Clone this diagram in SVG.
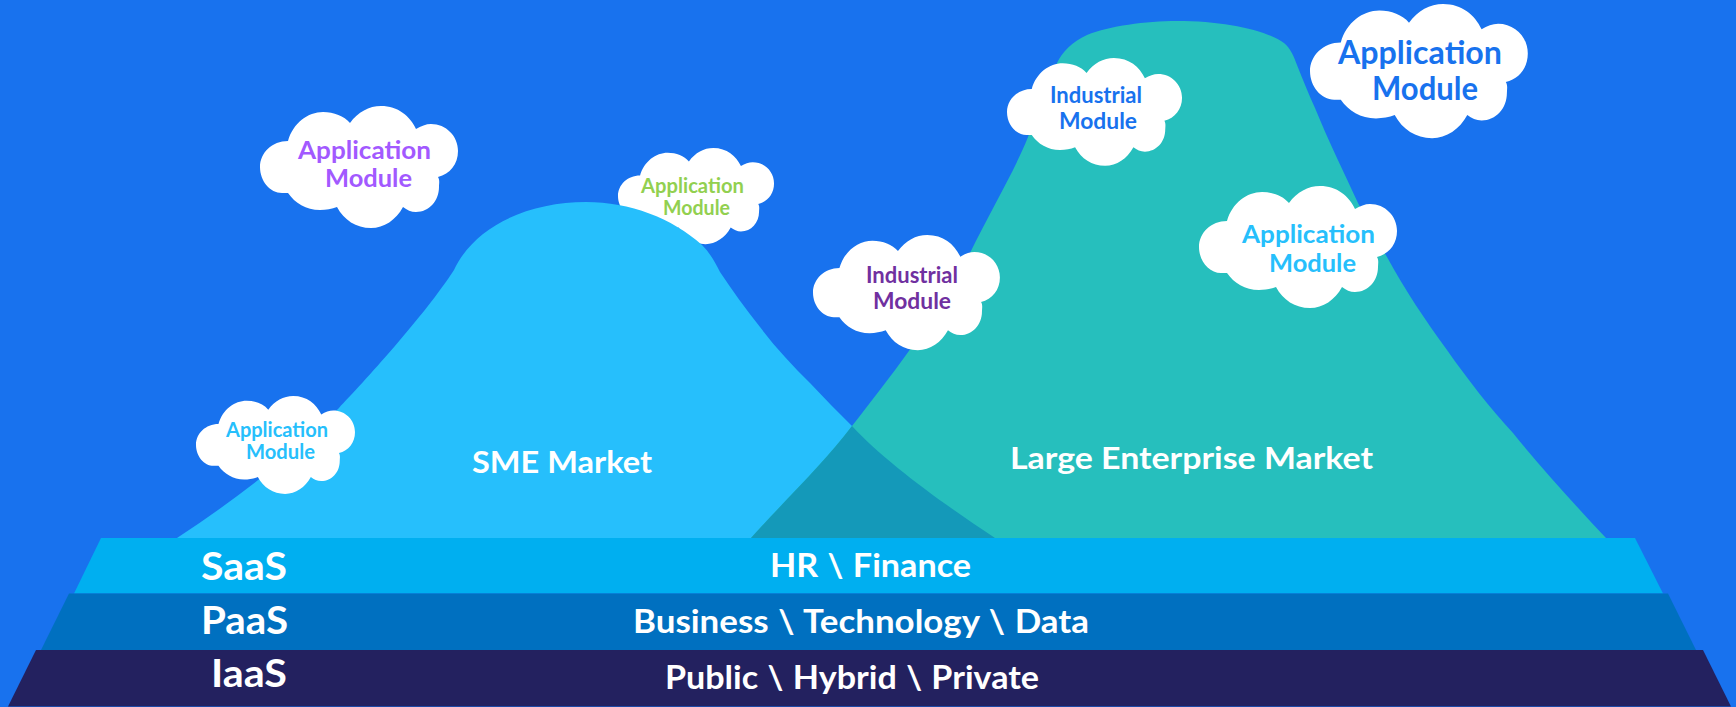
<svg xmlns="http://www.w3.org/2000/svg" xmlns:xlink="http://www.w3.org/1999/xlink" width="1736" height="707" viewBox="0 0 1736 707">
<style>
text{font-family:"Lato","Liberation Sans",sans-serif;font-weight:700}
.w{fill:#fff}
.m{font-size:31px}
.l{font-size:38px}
.s{font-size:32px;word-spacing:1px}
.c24{font-size:25.5px}
.c19{font-size:20px}
.c30{font-size:31.5px}
.c22{font-size:22.5px}
</style>
<defs>
<path id="cloud" fill="#fff" d="M28,35 C33,17 48,6 63,6 C74,6 84,10 90,17 C98,6 109,0 121,0 C138,0 150,10 156,23 C161,20 166,18 171,18 C186,18 198,30 198,45 C198,58 190,68 178,71 C180,74 179,78 179,81 C179,95 169,106 156,106 C151,106 147,104 143,101 C136,114 124,122 111,122 C96,122 84,114 77,101 C72,103 66,104 60,104 C46,104 35,97 28,87 C26,87 24,87 22,87 C10,87 0,75 0,61 C0,47 12,35 28,35 Z"/>
</defs>
<rect id="background" width="1736" height="707" fill="#1872ee"/>

<g id="cloud-green">
<use xlink:href="#cloud" href="#cloud" transform="translate(618 148) scale(.788)"/>
</g>

<g id="sme-market">
<path fill="#26bffc" d="M177,538 C235,500 290,458 339,408 C362,384 425,315 454,270 C475,225 530,202 586,202 C630,202 672,218 702,245 C710,253 715,262 720,272 C732,290 745,308 760,327 C775,347 792,365 810,383 C824,398 838,412 852,426 C885,462 945,505 995,538 Z"/>
</g>
<g id="large-enterprise-market">
<path fill="#26bfbd" d="M751,538 C790,495 825,462 852,426 C900,365 945,305 970,253 C990,212 1015,170 1028,137 C1038,110 1047,85 1057,63 C1062,52 1072,42 1087,35 C1110,26 1145,21 1177,21 C1225,21 1266,30 1284,43 C1291,49 1294,57 1297,65 C1303,80 1309,95 1315,108 C1328,140 1345,175 1358,203 C1367,220 1377,240 1387,257 C1405,290 1425,320 1447,350 C1468,380 1490,408 1513,433 C1543,470 1575,505 1606,538 Z"/>
</g>
<path id="market-overlap" fill="#1499b9" d="M751,538 C790,495 825,462 852,426 C885,462 945,505 995,538 Z"/>

<g id="band-saas">
<path fill="#00aff0" d="M101,538 H1635 L1663,593.5 H74 Z"/>
</g>
<g id="band-paas">
<path fill="#0070c0" d="M69,593.5 H1668 L1696,650 H41 Z"/>
</g>
<g id="band-iaas">
<path fill="#23215f" d="M36,650 H1703 L1731,706.5 H8 Z"/>
</g>

<g id="cloud-purple-app">
<use xlink:href="#cloud" href="#cloud" transform="translate(260 106)"/>
<text class="c24" x="298" y="159" textLength="133" lengthAdjust="spacingAndGlyphs" fill="#a259ff">Application</text>
<text class="c24" x="325" y="187" textLength="87" lengthAdjust="spacingAndGlyphs" fill="#a259ff">Module</text>
</g>
<g id="cloud-green-text">
<text class="c19" x="641" y="193" textLength="103" lengthAdjust="spacingAndGlyphs" fill="#92d050">Application</text>
<text class="c19" x="663" y="215" textLength="67" lengthAdjust="spacingAndGlyphs" fill="#92d050">Module</text>
</g>
<g id="cloud-small-app">
<use xlink:href="#cloud" href="#cloud" transform="translate(196 396) scale(.803)"/>
<text class="c19" x="226" y="437" textLength="102" lengthAdjust="spacingAndGlyphs" fill="#26bffc">Application</text>
<text class="c19" x="246" y="459" textLength="69" lengthAdjust="spacingAndGlyphs" fill="#26bffc">Module</text>
</g>
<g id="cloud-purple-industrial">
<use xlink:href="#cloud" href="#cloud" transform="translate(813 235) scale(.944)"/>
<text class="c22" x="866" y="283" textLength="92" lengthAdjust="spacingAndGlyphs" fill="#7030a0">Industrial</text>
<text class="c22" x="873" y="309" textLength="78" lengthAdjust="spacingAndGlyphs" fill="#7030a0">Module</text>
</g>
<g id="cloud-blue-industrial">
<use xlink:href="#cloud" href="#cloud" transform="translate(1007 58) scale(.884)"/>
<text class="c22" x="1050" y="103" textLength="92" lengthAdjust="spacingAndGlyphs" fill="#1872ee">Industrial</text>
<text class="c22" x="1059" y="129" textLength="78" lengthAdjust="spacingAndGlyphs" fill="#1872ee">Module</text>
</g>
<g id="cloud-light-app">
<use xlink:href="#cloud" href="#cloud" transform="translate(1199 186)"/>
<text class="c24" x="1242" y="243" textLength="133" lengthAdjust="spacingAndGlyphs" fill="#26bffc">Application</text>
<text class="c24" x="1269" y="272" textLength="87" lengthAdjust="spacingAndGlyphs" fill="#26bffc">Module</text>
</g>
<g id="cloud-blue-app">
<use xlink:href="#cloud" href="#cloud" transform="translate(1310 4) scale(1.1)"/>
<text class="c30" x="1338" y="64" textLength="164" lengthAdjust="spacingAndGlyphs" fill="#1872ee">Application</text>
<text class="c30" x="1372" y="100" textLength="106" lengthAdjust="spacingAndGlyphs" fill="#1872ee">Module</text>
</g>

<g id="labels">
<text class="w m" x="472" y="473" textLength="180" lengthAdjust="spacingAndGlyphs">SME Market</text>
<text class="w m" x="1010" y="469" textLength="363" lengthAdjust="spacingAndGlyphs">Large Enterprise Market</text>
<text class="w l" x="201" y="580" textLength="86" lengthAdjust="spacingAndGlyphs">SaaS</text>
<text class="w l" x="201" y="634" textLength="87" lengthAdjust="spacingAndGlyphs">PaaS</text>
<text class="w l" x="211" y="687" textLength="76" lengthAdjust="spacingAndGlyphs">IaaS</text>
<text class="w s" x="770" y="577" textLength="201" lengthAdjust="spacingAndGlyphs">HR \ Finance</text>
<text class="w s" x="633" y="633" textLength="456" lengthAdjust="spacingAndGlyphs">Business \ Technology \ Data</text>
<text class="w s" x="665" y="689" textLength="374" lengthAdjust="spacingAndGlyphs">Public \ Hybrid \ Private</text>
</g>
</svg>
